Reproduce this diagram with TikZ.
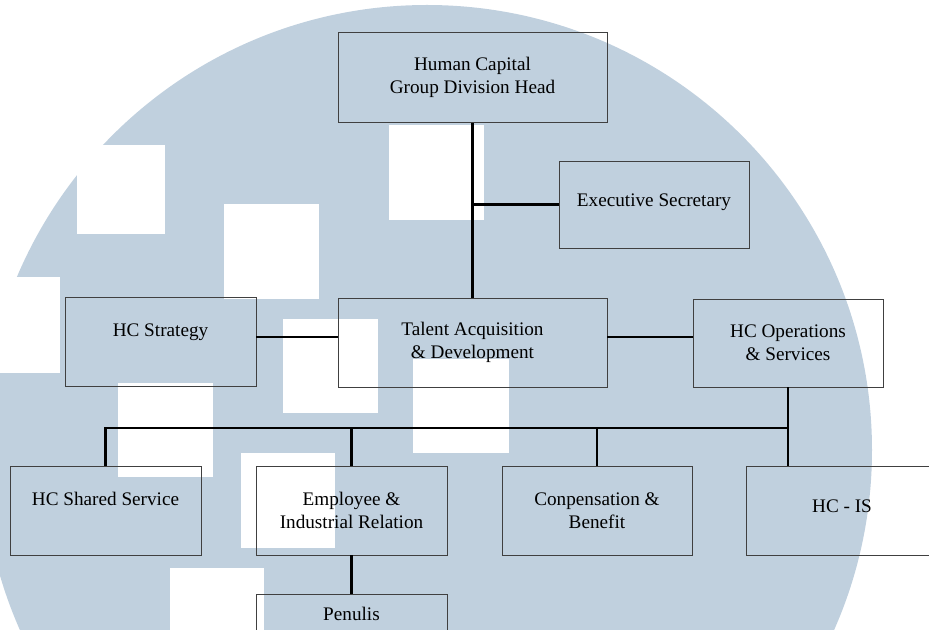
\documentclass[tikz,border=0pt]{standalone}
\usepackage{fontspec}
\setmainfont{Liberation Serif}
\definecolor{wmblue}{RGB}{192,208,222}
\begin{document}
\begin{tikzpicture}[x=0.75pt, y=-0.75pt,
    unit/.style={rectangle, draw=black!75, line width=0.7pt, align=center,
        font=\fontsize{14.4}{17.3}\selectfont, inner sep=0pt,
        minimum width=143.25pt, minimum height=66.75pt},
    wide/.style={unit, minimum width=201.75pt, minimum height=68pt},
    link/.style={line width=1.6pt}]
    \useasboundingbox (0,0) rectangle (929,630);
    \clip (0,0) rectangle (929,630);

    % watermark behind the chart
    \fill[wmblue] (427,450) circle[radius=333.75pt];
    \fill[white] (77,145) rectangle (165,234);
    \fill[white] (224,204) rectangle (319,299);
    \fill[white] (-5,277) rectangle (60,373);
    \fill[white] (118,383) rectangle (213,477);
    \fill[white] (283,319) rectangle (378,413);
    \fill[white] (241,453) rectangle (335,548);
    \fill[white] (170,568) rectangle (264,640);
    \fill[white] (389,125) rectangle (484,220);
    \fill[white] (413,359) rectangle (509,453);

    \node[wide] (head) at (472.5,77.5) {Human Capital\\Group Division Head};
    \node[unit, minimum width=142.5pt, minimum height=65.25pt] (secr) at (654,204.5) {\raisebox{6pt}{Executive Secretary}};

    \node[unit] (strat) at (160.5,342) {HC Strategy\\~};
    \node[wide, minimum height=66.75pt] (talent) at (472.5,342.5) {Talent Acquisition\\\& Development};
    \node[unit, minimum width=142.5pt, minimum height=66pt] (ops) at (788,343) {HC Operations\\\& Services};

    \node[unit] (shared) at (105.5,510.5) {HC Shared Service\\~};
    \node[unit] (emp) at (351.5,510.5) {Employee \&\\Industrial Relation};
    \node[unit, minimum width=142.5pt] (comp) at (597,510.5) {Conpensation \&\\Benefit};
    \node[unit, minimum width=144pt] (hcis) at (842,510.5) {\raisebox{6pt}{HC - IS}};
    \node[unit, minimum height=30pt] (penulis) at (351.5,614) {Penulis};

    \coordinate (bus) at (788,428);

    \draw[link] (head) -- (talent);
    \draw[link] (secr.west) -- (secr.west -| head.south);
    \draw[link] ([yshift=3.75pt]strat.east) -- ([yshift=3.75pt]strat.east -| talent.west);
    \draw[link] ([yshift=3.75pt]strat.east -| talent.east) -- ([yshift=3.75pt]strat.east -| ops.west);
    \draw[link] (ops.south) -- (ops.south |- hcis.north);
    \draw[link] (shared.north) |- (bus);
    \draw[link] (emp.north) -- (emp.north |- bus);
    \draw[link] (comp.north) -- (comp.north |- bus);
    \draw[link] (emp) -- (penulis);
\end{tikzpicture}
\end{document}
